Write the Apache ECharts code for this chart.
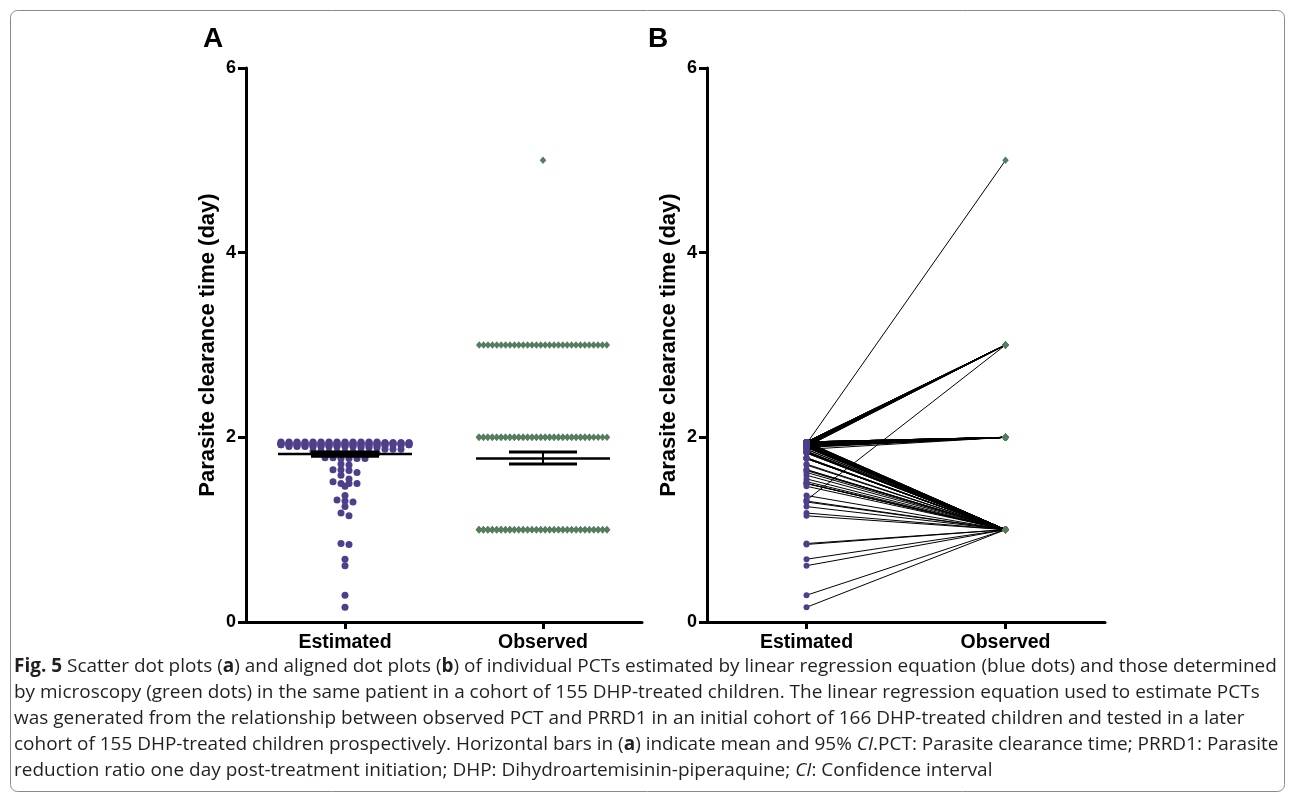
<!DOCTYPE html>
<html><head><meta charset="utf-8">
<script src="https://cdn.jsdelivr.net/npm/echarts@6/dist/echarts.min.js"></script>
<style>html,body{margin:0;padding:0;background:#fff}#c{width:1290px;height:797px}</style>
</head><body><div id="c"></div><script>
// ---------------- data ----------------
const categories = ['Estimated', 'Observed'];
const yTickValues = [0, 2, 4, 6];
const yTitle = 'Parasite clearance time (day)';
const panelLabels = ['A', 'B'];

// estimated PCT (day) of each patient, grouped by the observed PCT of that patient
const estToObs5 = [1.93];
const estToObs3 = [1.93,1.94,1.92,1.95,1.91,1.93,1.94,1.92,1.90,1.93,1.95,1.94,1.92,1.93,1.91,
  1.94,1.93,1.92,1.95,1.93,1.94,1.90,1.92,1.93,1.94,1.91,1.93,1.95,1.92,1.32];
const estToObs2 = [1.94,1.93,1.92,1.95,1.93,1.91,1.94,1.92,1.93,1.90,1.95,1.93,1.94,1.92,1.91,
  1.93,1.94,1.95,1.92,1.93,1.90,1.94,1.93,1.92,1.95,1.93,1.91,1.94,1.93,1.92,
  1.94,1.95,1.93,1.90,1.92,1.93,1.94,1.91,1.93,1.95,1.92,1.93,1.94,1.92,1.93,
  1.95,1.91,1.93,1.94,1.92,1.93,1.90,1.94,1.93,1.89,1.87];
const estToObs1 = [1.92,1.93,1.91,1.94,1.90,1.93,1.92,1.95,1.89,1.93,1.91,1.94,1.92,1.90,1.93,
  1.94,1.89,1.92,1.93,1.91,1.95,1.90,1.93,1.92,1.94,1.91,
  1.87,1.87,1.85,1.84,1.84,1.83,1.84,1.85,1.84,1.83,1.84,
  1.78,1.78,1.77,1.77,1.77,1.77,1.71,1.70,1.65,1.65,1.64,1.62,1.59,1.55,1.52,1.50,1.50,1.50,
  1.47,1.37,1.31,1.30,1.25,1.18,1.15,0.85,0.84,0.68,0.61,0.29,0.16];
const observedLevels = [5, 3, 2, 1];

// horizontal bars in panel A (mean and interval)
const barMean = [1.82, 1.77];
const barLow  = [1.795, 1.71];
const barHigh = [1.84, 1.84];

const captionLines = [
  '{b|Fig. 5} Scatter dot plots ({b|a}) and aligned dot plots ({b|b}) of individual PCTs estimated by linear regression equation (blue dots) and those determined',
  'by microscopy (green dots) in the same patient in a cohort of 155 DHP-treated children. The linear regression equation used to estimate PCTs',
  'was generated from the relationship between observed PCT and PRRD1 in an initial cohort of 166 DHP-treated children and tested in a later',
  'cohort of 155 DHP-treated children prospectively. Horizontal bars in ({b|a}) indicate mean and 95% {i|CI}.PCT: Parasite clearance time; PRRD1: Parasite',
  'reduction ratio one day post-treatment initiation; DHP: Dihydroartemisinin-piperaquine; {i|CI}: Confidence interval'
];

// ---------------- build ----------------
const estimated = [], observed = [];
[[estToObs5, observedLevels[0]], [estToObs3, observedLevels[1]], [estToObs2, observedLevels[2]], [estToObs1, observedLevels[3]]]
  .forEach(([arr, o]) => arr.forEach(e => { estimated.push(e); observed.push(o); }));

const PURPLE = '#4f3f8b', GREEN = '#557d5e';
const FONT = '"Liberation Sans", Arial, sans-serif';
const GA = {left: 246, top: 68, width: 396, height: 554};
const GB = {left: 707, top: 68, width: 398, height: 554};
const pxPerY = GA.height / 6, pxPerX = GA.width / 2;

// GraphPad-like column scatter: group by pixel rows, spread horizontally within a max width
function swarm(vals, center, dot, maxW, rowPx) {
  const order = vals.map((v, i) => i).sort((a, b) => vals[b] - vals[a]);
  const out = new Array(vals.length);
  let row = [], rowTop = null;
  const flush = () => {
    const n = row.length; if (!n) return;
    const slots = Math.floor(maxW / dot) + 1;
    let m, sp;
    if (n <= slots) { m = n; sp = dot; } else { m = slots; sp = maxW / (slots - 1); }
    row.forEach((i, k) => {
      const s = k % m;
      out[i] = [center + (s - (m - 1) / 2) * sp / pxPerX, vals[i]];
    });
    row = [];
  };
  order.forEach(i => {
    const py = vals[i] * pxPerY;
    if (rowTop === null || rowTop - py > rowPx) { flush(); rowTop = py; }
    row.push(i);
  });
  flush();
  return out;
}

const swarmEst = swarm(estimated, 0.5, 8, 128, 4);
const swarmObs = swarm(observed, 1.5, 4.4, 128, 4);

function yAxisCfg(grid) {
  return {
    type: 'value', gridIndex: grid, min: 0, max: 6, interval: 2,
    name: yTitle, nameLocation: 'middle', nameGap: 27, nameRotate: 90,
    nameTextStyle: {fontFamily: FONT, fontWeight: 'bold', fontSize: 22, color: '#000'},
    axisLine: {show: true, lineStyle: {color: '#000', width: 3}},
    axisTick: {show: true, length: 8, lineStyle: {color: '#000', width: 3}},
    axisLabel: {show: true, margin: 10, fontFamily: FONT, fontWeight: 'bold', fontSize: 18, color: '#000',
      formatter: v => yTickValues.includes(v) ? String(v) : ''},
    splitLine: {show: false}
  };
}
const xLabel = {fontFamily: FONT, fontWeight: 'bold', fontSize: 19.5, color: '#000', margin: 11};

const chart = echarts.init(document.getElementById('c'), null, {renderer: 'canvas'});

// caption scaling to mimic the condensed caption font
const ctx = document.createElement('canvas').getContext('2d');
ctx.font = '19px "Open Sans"';
const plain0 = captionLines[0].replace(/\{[a-z]\|([^}]*)\}/g, '$1');
const capScale = 1259 / ctx.measureText(plain0).width;

const graphics = [
  {type: 'rect', left: 8, top: 8, shape: {width: 1274, height: 781, r: 7}, style: {fill: 'none', stroke: '#8a8a8a', lineWidth: 1}, silent: true},
  {type: 'text', x: 203, y: 25, style: {text: panelLabels[0], font: 'bold 28px ' + FONT, fill: '#000'}},
  {type: 'text', x: 648, y: 25, style: {text: panelLabels[1], font: 'bold 28px ' + FONT, fill: '#000'}}
];
captionLines.forEach((t, k) => {
  graphics.push({
    type: 'text', x: 14, y: 667 + 26 * k, scaleX: capScale, originX: 0,
    style: {
      text: t, font: '19px "Open Sans"', fill: '#231f20', verticalAlign: 'middle',
      rich: {b: {fontWeight: 'bold', fontSize: 19, fontFamily: 'Open Sans'}, i: {fontStyle: 'italic', fontSize: 19, fontFamily: 'Open Sans'}}
    }
  });
});

chart.setOption({
  animation: false,
  backgroundColor: '#fff',
  grid: [Object.assign({containLabel: false}, GA), Object.assign({containLabel: false}, GB)],
  xAxis: [
    {type: 'value', gridIndex: 0, min: 0, max: 2,
     axisLine: {show: true, lineStyle: {color: '#000', width: 3}},
     axisTick: {show: true, length: 7, customValues: [0.5, 1.5], lineStyle: {color: '#000', width: 3}},
     axisLabel: Object.assign({customValues: [0.5, 1.5], formatter: v => categories[Math.round(v - 0.5)] || ''}, xLabel),
     splitLine: {show: false}},
    {type: 'category', gridIndex: 1, data: categories, boundaryGap: true,
     axisLine: {show: true, lineStyle: {color: '#000', width: 3}},
     axisTick: {show: true, length: 7, alignWithLabel: true, lineStyle: {color: '#000', width: 3}},
     axisLabel: xLabel, splitLine: {show: false}}
  ],
  yAxis: [yAxisCfg(0), yAxisCfg(1)],
  series: [
    {type: 'scatter', xAxisIndex: 0, yAxisIndex: 0, data: swarmEst, symbol: 'circle', symbolSize: 7,
     itemStyle: {color: PURPLE, opacity: 1}, z: 3},
    {type: 'scatter', xAxisIndex: 0, yAxisIndex: 0, data: swarmObs, symbol: 'diamond', symbolSize: [6.5, 7.5],
     itemStyle: {color: GREEN, opacity: 1}, z: 3},
    {type: 'custom', xAxisIndex: 0, yAxisIndex: 0, z: 5,
     data: barMean.map((m, i) => [i + 0.5, m, barLow[i], barHigh[i]]),
     encode: {x: 0, y: [1, 2, 3]},
     renderItem: (p, api) => {
       const c = api.coord([api.value(0), api.value(1)]);
       const lo = api.coord([api.value(0), api.value(2)]);
       const hi = api.coord([api.value(0), api.value(3)]);
       const st = w => ({stroke: '#000', lineWidth: w});
       return {type: 'group', children: [
         {type: 'line', shape: {x1: c[0] - 67, y1: c[1], x2: c[0] + 67, y2: c[1]}, style: st(2.5)},
         {type: 'line', shape: {x1: c[0], y1: lo[1], x2: c[0], y2: hi[1]}, style: st(2)},
         {type: 'line', shape: {x1: c[0] - 34, y1: lo[1], x2: c[0] + 34, y2: lo[1]}, style: st(3)},
         {type: 'line', shape: {x1: c[0] - 34, y1: hi[1], x2: c[0] + 34, y2: hi[1]}, style: st(3)}
       ]};
     }},
    {type: 'custom', xAxisIndex: 1, yAxisIndex: 1, z: 2,
     data: estimated.map((e, i) => [0, e, 1, observed[i]]),
     encode: {x: [0, 2], y: [1, 3]},
     renderItem: (p, api) => {
       const a = api.coord([api.value(0), api.value(1)]);
       const b = api.coord([api.value(2), api.value(3)]);
       return {type: 'line', shape: {x1: a[0], y1: a[1], x2: b[0], y2: b[1]}, style: {stroke: '#000', lineWidth: 1}};
     }},
    {type: 'scatter', xAxisIndex: 1, yAxisIndex: 1, data: estimated.map(e => [0, e]), symbol: 'circle', symbolSize: 6,
     itemStyle: {color: PURPLE, opacity: 1}, z: 4},
    {type: 'scatter', xAxisIndex: 1, yAxisIndex: 1, data: observed.map(o => [1, o]), symbol: 'diamond', symbolSize: [6.5, 7.5],
     itemStyle: {color: GREEN, opacity: 1}, z: 4}
  ],
  graphic: graphics
});
</script></body></html>
